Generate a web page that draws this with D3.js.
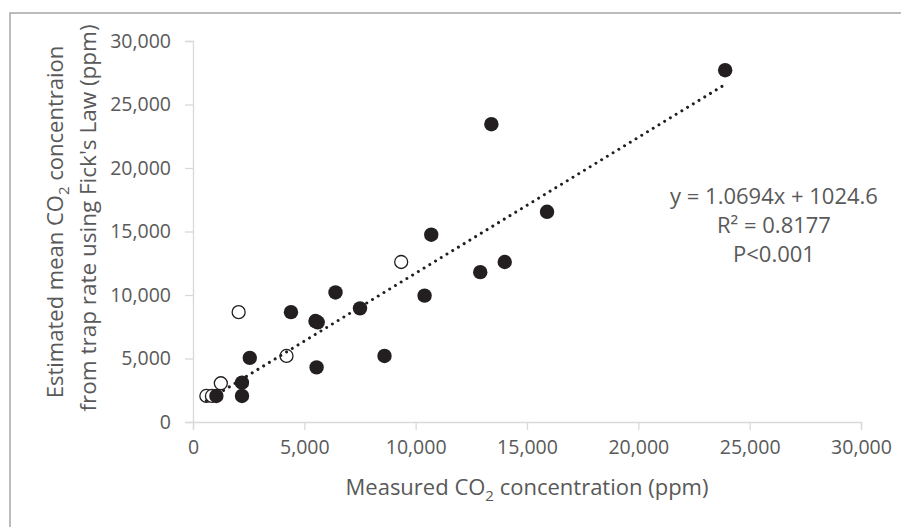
<!DOCTYPE html>
<html>
<head>
<meta charset="utf-8">
<script src="https://cdn.jsdelivr.net/npm/d3@7"></script>
<style>
  body { margin: 0; background: #fff; }
  svg { display: block; font-family: "Open Sans", "Noto Sans", sans-serif; }
</style>
</head>
<body>
<div id="chart"></div>
<script>
// ----------------------------------------------
// Data
// ----------------------------------------------
const filledMeasured = [23900, 13400, 15900, 10700, 14000, 12900, 10400, 6400, 7500, 4400, 5500, 5600, 8600, 5550, 2550, 2200, 2200, 1050];
const filledEstimated = [27700, 23450, 16550, 14750, 12600, 11800, 9950, 10200, 8950, 8650, 7950, 7850, 5200, 4300, 5050, 3100, 2050, 2050];

const openMeasured = [9350, 4200, 2050, 1250, 600, 850];
const openEstimated = [12600, 5200, 8650, 3050, 2050, 2050];

const xTicks = [0, 5000, 10000, 15000, 20000, 25000, 30000];
const yTicks = [0, 5000, 10000, 15000, 20000, 25000, 30000];

const trendSlope = 1.0694;
const trendIntercept = 1024.6;
const statLines = ['y = 1.0694x + 1024.6', 'R² = 0.8177', 'P<0.001'];

// ----------------------------------------------
// Layout
// ----------------------------------------------
const width = 901, height = 527;
const plot = { left: 193, right: 861, top: 41, bottom: 422 };
const textGrey = '#595959';
const axisGrey = '#d9d9d9';

const svg = d3.select('#chart').append('svg')
  .attr('width', width)
  .attr('height', height);

// outer chart frame (only top & left edges fall inside the picture)
svg.append('path')
  .attr('d', `M10,${height + 5}V13H${width + 5}`)
  .attr('fill', 'none')
  .attr('stroke', '#a6a6a6')
  .attr('stroke-width', 1.5);

const x = d3.scaleLinear().domain([0, 30000]).range([plot.left, plot.right]);
const y = d3.scaleLinear().domain([0, 30000]).range([plot.bottom, plot.top]);
const fmt = d3.format(',');

// ----------------------------------------------
// Axes
// ----------------------------------------------
const xAxis = svg.append('g')
  .attr('transform', `translate(0,${plot.bottom})`)
  .call(d3.axisBottom(x).tickValues(xTicks).tickFormat(fmt).tickSize(8).tickPadding(10));

const yAxis = svg.append('g')
  .attr('transform', `translate(${plot.left},0)`)
  .call(d3.axisLeft(y).tickValues(yTicks).tickFormat(fmt).tickSize(8).tickPadding(14));

[xAxis, yAxis].forEach(ax => {
  ax.select('.domain').attr('stroke', axisGrey).attr('stroke-width', 1.3);
  ax.selectAll('.tick line').attr('stroke', axisGrey).attr('stroke-width', 1.3);
  ax.selectAll('.tick text')
    .attr('fill', textGrey)
    .style('font-size', '19.5px')
    .style('font-family', '"Open Sans", sans-serif');
});

// ----------------------------------------------
// Axis titles (with subscript 2)
// ----------------------------------------------
function co2Title(sel, before, after) {
  sel.append('tspan').text(before + 'CO');
  sel.append('tspan').text('2').attr('dy', 6).style('font-size', '15px');
  sel.append('tspan').text(after).attr('dy', -6);
}

const xTitle = svg.append('text')
  .attr('x', (plot.left + plot.right) / 2)
  .attr('y', 495)
  .attr('text-anchor', 'middle')
  .attr('fill', textGrey)
  .style('font-size', '22px');
co2Title(xTitle, 'Measured ', ' concentration (ppm)');

const yTitle1 = svg.append('text')
  .attr('transform', 'translate(63,222) rotate(-90)')
  .attr('text-anchor', 'middle')
  .attr('fill', textGrey)
  .style('font-size', '22px');
co2Title(yTitle1, 'Estimated mean ', ' concentraion');

svg.append('text')
  .attr('transform', 'translate(96,218) rotate(-90)')
  .attr('text-anchor', 'middle')
  .attr('fill', textGrey)
  .style('font-size', '22.5px')
  .text("from trap rate using Fick's Law (ppm)");

// ----------------------------------------------
// Points
// ----------------------------------------------
const openPts = openMeasured.map((v, i) => ({ mx: v, est: openEstimated[i] }));
const filledPts = filledMeasured.map((v, i) => ({ mx: v, est: filledEstimated[i] }));

svg.append('g').selectAll('circle')
  .data(openPts)
  .join('circle')
  .attr('cx', d => x(d.mx))
  .attr('cy', d => y(d.est))
  .attr('r', 6.5)
  .attr('fill', '#fff')
  .attr('stroke', '#231f20')
  .attr('stroke-width', 1.3);

svg.append('g').selectAll('circle')
  .data(filledPts)
  .join('circle')
  .attr('cx', d => x(d.mx))
  .attr('cy', d => y(d.est))
  .attr('r', 7.2)
  .attr('fill', '#231f20');

// ----------------------------------------------
// Linear trendline (dotted), spanning the data's x range
// ----------------------------------------------
const allX = filledMeasured.concat(openMeasured);
const xMin = d3.min(allX), xMax = d3.max(allX);
svg.append('line')
  .attr('x1', x(xMin))
  .attr('y1', y(trendSlope * xMin + trendIntercept))
  .attr('x2', x(xMax))
  .attr('y2', y(trendSlope * xMax + trendIntercept))
  .attr('stroke', '#231f20')
  .attr('stroke-width', 3)
  .attr('stroke-linecap', 'round')
  .attr('stroke-dasharray', '0.01 6.7');

// ----------------------------------------------
// Regression stats label
// ----------------------------------------------
svg.append('g').selectAll('text')
  .data(statLines)
  .join('text')
  .attr('x', 774)
  .attr('y', (d, i) => 204 + i * 29)
  .attr('text-anchor', 'middle')
  .attr('fill', textGrey)
  .style('font-size', '22px')
  .text(d => d);
</script>
</body>
</html>
